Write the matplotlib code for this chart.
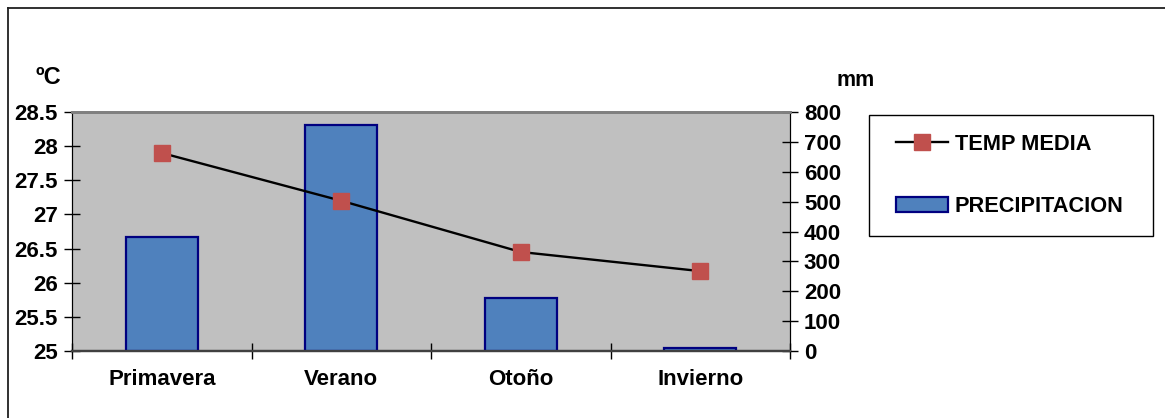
from matplotlib import pyplot as plt
from matplotlib.lines import Line2D
from matplotlib.patches import Rectangle
import numpy as np

plt.rcParams['font.family'] = ['Liberation Sans', 'DejaVu Sans']
plt.rcParams['font.weight'] = 'bold'

estaciones = ['Primavera', 'Verano', 'Otoño', 'Invierno']
temp_media = [27.9, 27.2, 26.45, 26.17]
precipitacion = [382, 756, 176, 11]

temp_ticks = [25, 25.5, 26, 26.5, 27, 27.5, 28, 28.5]
temp_tick_labels = ['25', '25.5', '26', '26.5', '27', '27.5', '28', '28.5']
mm_ticks = [0, 100, 200, 300, 400, 500, 600, 700, 800]

W, H = 1165, 418
fig = plt.figure(figsize=(W / 100, H / 100), dpi=100)

# marco exterior del grafico (solo lados izquierdo y superior visibles)
fig.add_artist(Line2D([7.5 / W, 7.5 / W], [0, 1 - 7.5 / H], color='#202020', linewidth=1.3))
fig.add_artist(Line2D([7.5 / W, 1], [1 - 7.5 / H, 1 - 7.5 / H], color='#202020', linewidth=1.3))

ax = fig.add_axes([72 / W, 1 - 351 / H, 718 / W, 239 / H])
ax.set_facecolor('#C0C0C0')
ax2 = ax.twinx()

x = np.arange(len(estaciones))

# barras de precipitacion en el eje derecho
ax2.bar(x, precipitacion, width=0.4, color='#4F81BD', edgecolor='#000080',
        linewidth=1.6, label='PRECIPITACION', zorder=2)
ax2.set_ylim(0, 800)
ax2.set_yticks(mm_ticks)

# temperatura media sobre las barras
ax3 = ax.twinx()
ax3.plot(x, temp_media, '-', color='black', linewidth=1.7, marker='s',
         markersize=11, markerfacecolor='#C0504D', markeredgecolor='#C0504D',
         label='TEMP MEDIA', zorder=3)
ax3.set_ylim(25, 28.5)
ax3.axis('off')

ax.set_ylim(25, 28.5)
ax.set_yticks(temp_ticks)
ax.set_yticklabels(temp_tick_labels)
ax.set_xlim(-0.5, 3.5)
ax.set_xticks(x)
ax.set_xticklabels(estaciones, fontsize=16)
ax.set_xticks(np.arange(-0.5, 4, 1), minor=True)
ax.tick_params(axis='x', which='major', length=0, pad=13)
ax.tick_params(axis='x', which='minor', length=12, direction='inout', width=1)
ax.tick_params(axis='y', length=12, direction='inout', width=1, labelsize=16, pad=4)
ax2.tick_params(axis='y', length=12, direction='inout', width=1, labelsize=16, pad=4)

for a in (ax, ax2, ax3):
    a.spines['top'].set_color('#808080')
    a.spines['top'].set_linewidth(2)
    a.spines['bottom'].set_color('#404040')
    a.spines['bottom'].set_linewidth(1.6)
    a.spines['left'].set_color('black')
    a.spines['right'].set_color('black')

fig.text(48 / W, 1 - 78 / H, 'ºC', fontsize=17, ha='center', va='center')
fig.text(856 / W, 1 - 80 / H, 'mm', fontsize=15.5, ha='center', va='center')

# leyenda: marco dibujado aparte para fijar su tamaño
fig.add_artist(Rectangle((869 / W, 1 - 236 / H), 284 / W, 121 / H,
                         transform=fig.transFigure, facecolor='white',
                         edgecolor='black', linewidth=1))
h1, l1 = ax3.get_legend_handles_labels()
h2, l2 = ax2.get_legend_handles_labels()
leg = fig.legend(h1 + h2, l1 + l2, loc='upper left',
                 bbox_to_anchor=(896 / W, 1 - 134 / H), fontsize=15.7,
                 frameon=False, borderpad=0, labelspacing=1.9,
                 handlelength=2.4, handletextpad=0.3, borderaxespad=0)

fig.savefig('out.png', dpi=100)
